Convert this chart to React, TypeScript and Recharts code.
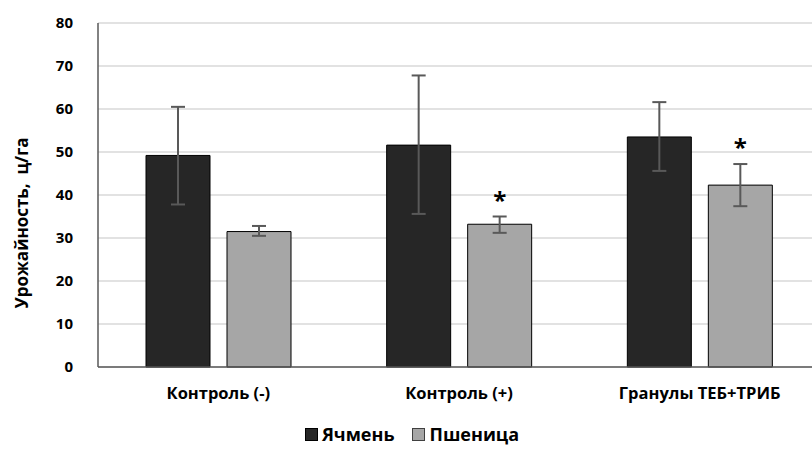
import { Bar, BarChart, CartesianGrid, ErrorBar, LabelList, Legend, XAxis, YAxis } from 'recharts';

const categories = ['Контроль (-)', 'Контроль (+)', 'Гранулы  ТЕБ+ТРИБ'];
const barley = [49.2, 51.6, 53.5];
const wheat = [31.5, 33.2, 42.3];
// [вниз, вверх]
const barleyErr = [
  [11.4, 11.3],
  [16.0, 16.2],
  [7.9, 8.1],
];
const wheatErr = [
  [1.0, 1.3],
  [2.0, 1.8],
  [4.9, 4.9],
];
const wheatMarks = ['', '*', '*'];
const yTicks = [0, 10, 20, 30, 40, 50, 60, 70, 80];

const data = categories.map((name, i) => ({
  name,
  barley: barley[i],
  wheat: wheat[i],
  barleyErr: barleyErr[i],
  wheatErr: wheatErr[i],
  mark: wheatMarks[i],
  markErr: wheatErr[i][1],
}));

const FONT = '"Open Sans", sans-serif';

const Star = (props: any) => {
  const { x, y, width, height, value, index } = props;
  if (!value) return null;
  const d = data[index];
  const top = y - (d.markErr * height) / d.wheat;
  return (
    <text x={x + width / 2} y={top - 8} textAnchor="middle" fontFamily={FONT} fontWeight={700} fontSize={24} fill="#000">
      {value}
    </text>
  );
};

const LegendBox = () => (
  <div style={{ display: 'flex', justifyContent: 'center', alignItems: 'center', gap: 18, fontFamily: FONT, fontWeight: 700, fontSize: 18, color: '#000', paddingTop: 15, paddingLeft: 4 }}>
    <span style={{ display: 'flex', alignItems: 'center' }}>
      <span style={{ width: 11, height: 11, background: '#262626', border: '1px solid #000', marginRight: 4 }} />
      Ячмень
    </span>
    <span style={{ display: 'flex', alignItems: 'center' }}>
      <span style={{ width: 11, height: 11, background: '#a6a6a6', border: '1px solid #404040', marginRight: 4 }} />
      Пшеница
    </span>
  </div>
);

const YLabel = () => (
  <text x={28} y={223} transform="rotate(-90 28 223)" textAnchor="middle" fontFamily={FONT} fontWeight={700} fontSize={17} fill="#000" style={{ whiteSpace: 'pre' }}>
    {'Урожайность,  ц/га'}
  </text>
);

export default function App() {
  return (
    <div style={{ width: 812, height: 450, overflow: 'hidden', background: '#fff', position: 'relative' }}>
      <style>{`body{margin:0;overflow:hidden}`}</style>
      <BarChart width={830} height={450} data={data} margin={{ top: 23, right: 10, left: 0, bottom: 0 }} barGap={17} barSize={64}>
        <CartesianGrid vertical={false} stroke="#d9d9d9" strokeWidth={1.5} />
        <XAxis
          dataKey="name"
          tickLine={false}
          axisLine={{ stroke: '#595959', strokeWidth: 1.5 }}
          height={40}
          tickMargin={14}
          tick={{ fontFamily: FONT, fontWeight: 700, fontSize: 16.5, fill: '#000', style: { whiteSpace: 'pre' } }}
        />
        <YAxis
          domain={[0, 80]}
          ticks={yTicks}
          width={98}
          tickLine={false}
          axisLine={{ stroke: '#595959', strokeWidth: 1.5 }}
          tickMargin={19}
          tick={{ fontFamily: FONT, fontWeight: 700, fontSize: 15, fill: '#000' }}
          label={<YLabel />}
        />
        <Legend verticalAlign="bottom" height={43} content={<LegendBox />} />
        <Bar dataKey="barley" name="Ячмень" fill="#262626" stroke="#000" strokeWidth={1} isAnimationActive={false}>
          <ErrorBar dataKey="barleyErr" width={7} stroke="#595959" strokeWidth={2} isAnimationActive={false} />
        </Bar>
        <Bar dataKey="wheat" name="Пшеница" fill="#a6a6a6" stroke="#000" strokeWidth={1} isAnimationActive={false}>
          <ErrorBar dataKey="wheatErr" width={7} stroke="#595959" strokeWidth={2} isAnimationActive={false} />
          <LabelList dataKey="mark" content={<Star />} />
        </Bar>
      </BarChart>
    </div>
  );
}
